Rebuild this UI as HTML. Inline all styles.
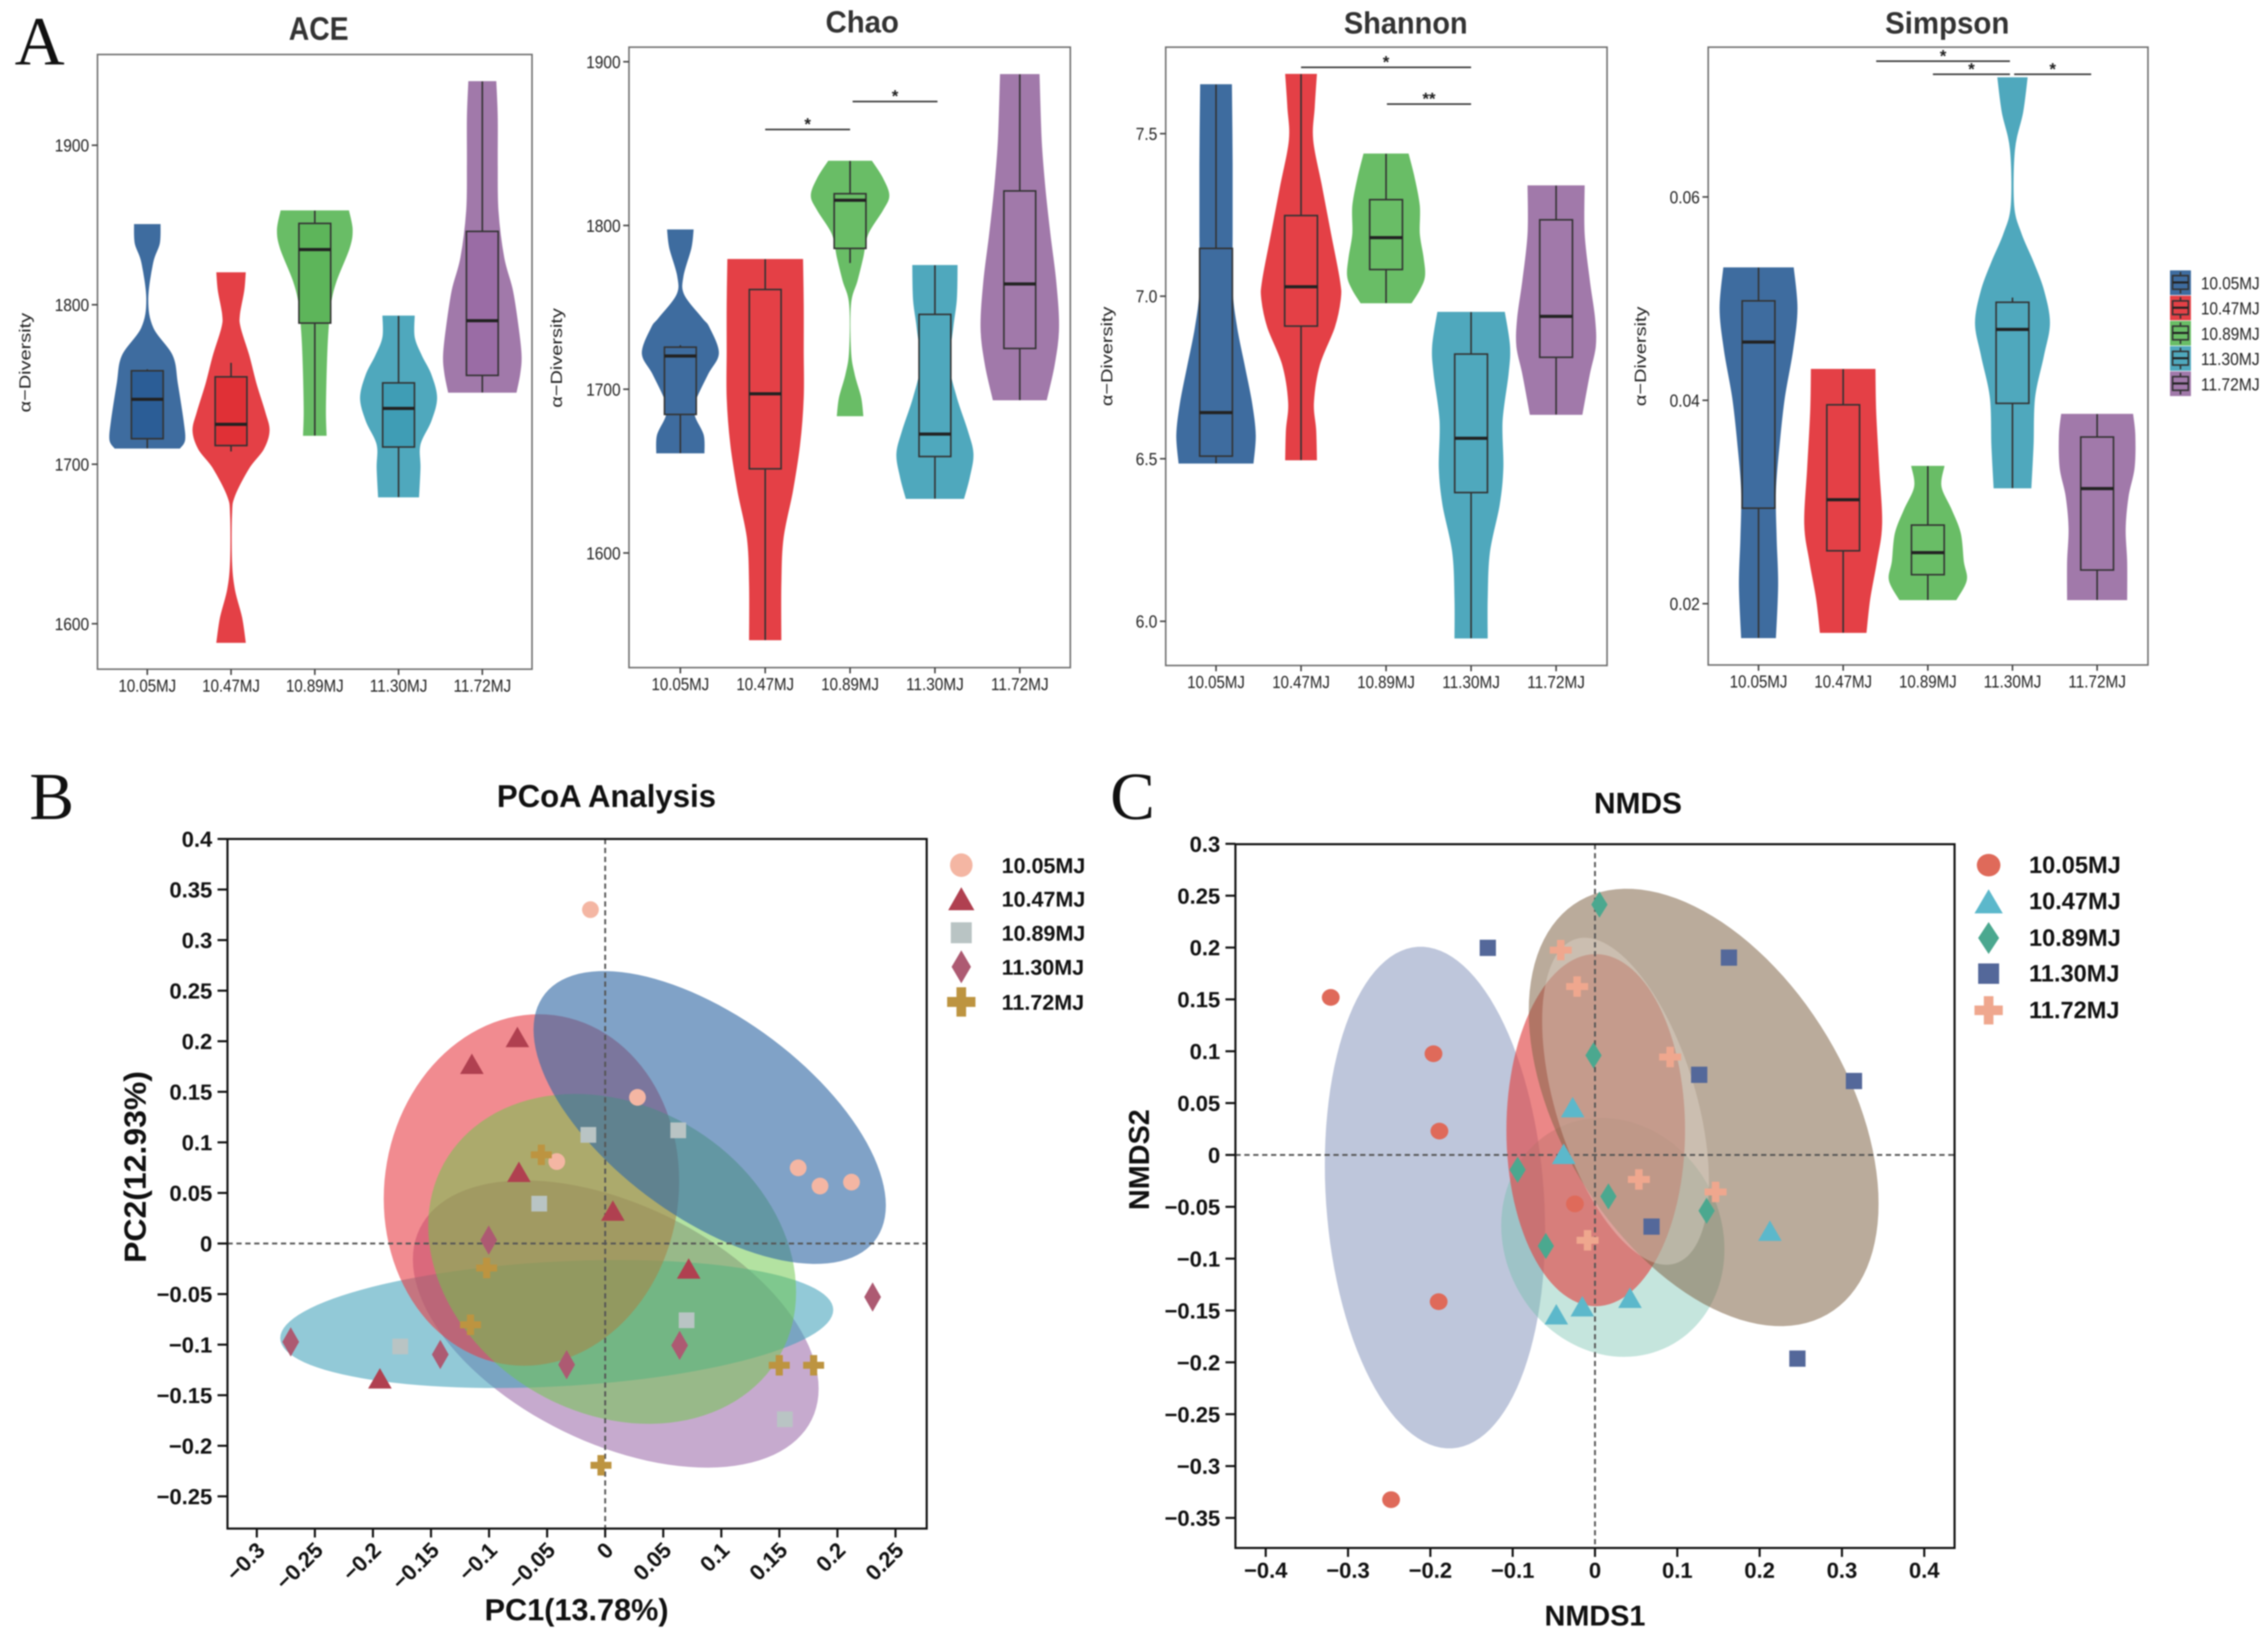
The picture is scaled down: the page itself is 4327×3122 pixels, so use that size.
<!DOCTYPE html>
<html lang="en">
<head>
<meta charset="utf-8">
<title>Alpha diversity, PCoA and NMDS</title>
<style>
html,body{margin:0;padding:0;background:#fff;}
svg{display:block;filter:blur(1.2px);}
text{font-family:"Liberation Sans",sans-serif;}
.serif{font-family:"Liberation Serif",serif;}
</style>
</head>
<body>
<svg id="figure" xmlns="http://www.w3.org/2000/svg" width="4327" height="3122" viewBox="0 0 4327 3122">
<rect width="4327" height="3122" fill="#fff"/>
<text class="serif" x="28" y="123" font-size="132" fill="#111">A</text>
<text class="serif" x="56" y="1563" font-size="128" fill="#111">B</text>
<text class="serif" x="2118" y="1563" font-size="128" fill="#111">C</text>
<text x="608" y="76" font-size="62" font-weight="bold" fill="#333" text-anchor="middle" textLength="114" lengthAdjust="spacingAndGlyphs">ACE</text>
<text x="1645" y="62" font-size="58" font-weight="bold" fill="#333" text-anchor="middle" textLength="140" lengthAdjust="spacingAndGlyphs">Chao</text>
<text x="2682" y="64" font-size="58" font-weight="bold" fill="#333" text-anchor="middle" textLength="236" lengthAdjust="spacingAndGlyphs">Shannon</text>
<text x="3715" y="64" font-size="58" font-weight="bold" fill="#333" text-anchor="middle" textLength="237" lengthAdjust="spacingAndGlyphs">Simpson</text>
<text transform="translate(58 692) rotate(-90)" font-size="31" fill="#222" text-anchor="middle" textLength="190" lengthAdjust="spacingAndGlyphs">α−Diversity</text>
<text transform="translate(1072 683) rotate(-90)" font-size="31" fill="#222" text-anchor="middle" textLength="190" lengthAdjust="spacingAndGlyphs">α−Diversity</text>
<text transform="translate(2122 680) rotate(-90)" font-size="31" fill="#222" text-anchor="middle" textLength="190" lengthAdjust="spacingAndGlyphs">α−Diversity</text>
<text transform="translate(3140 680) rotate(-90)" font-size="31" fill="#222" text-anchor="middle" textLength="190" lengthAdjust="spacingAndGlyphs">α−Diversity</text>
<text x="1157" y="1540" font-size="60" font-weight="bold" fill="#111" text-anchor="middle" textLength="418" lengthAdjust="spacingAndGlyphs">PCoA Analysis</text>
<text x="1100" y="3092" font-size="58" font-weight="bold" fill="#111" text-anchor="middle" textLength="351" lengthAdjust="spacingAndGlyphs">PC1(13.78%)</text>
<text transform="translate(278 2227) rotate(-90)" font-size="58" font-weight="bold" fill="#111" text-anchor="middle" textLength="366" lengthAdjust="spacingAndGlyphs">PC2(12.93%)</text>
<text x="3125" y="1552" font-size="57" font-weight="bold" fill="#111" text-anchor="middle">NMDS</text>
<text x="3043" y="3102" font-size="55" font-weight="bold" fill="#111" text-anchor="middle">NMDS1</text>
<text transform="translate(2192 2213) rotate(-90)" font-size="55" font-weight="bold" fill="#111" text-anchor="middle">NMDS2</text>
</svg>
<script>
// ---------- shared categories ----------
const groupLabels = ["10.05MJ", "10.47MJ", "10.89MJ", "11.30MJ", "11.72MJ"];

// ---------- ACE ----------
const aceTicks = [1600, 1700, 1800, 1900];
const aceTickLabels = ["1600", "1700", "1800", "1900"];
const aceBoxes = [
  [1710, 1716, 1740.7, 1758.6, 1759.5],
  [1708, 1711.7, 1725, 1754.8, 1763.6],
  [1718, 1788.5, 1834.6, 1851, 1859],
  [1679.4, 1710.8, 1735, 1751, 1793],
  [1745, 1755.7, 1790, 1846, 1940]
];
const aceViolinValues = [
  [1850.4, 1838.4, 1826.7, 1803.2, 1785.6, 1768, 1750.4, 1727, 1715.2, 1710],
  [1820.2, 1809, 1794, 1785.6, 1768, 1750.4, 1732.8, 1721, 1709.4, 1697.6, 1680, 1668.3, 1639, 1621.4, 1603.8, 1588.2],
  [1859, 1847.2, 1835.5, 1815, 1800.3, 1779.7, 1756.3, 1732.8, 1718],
  [1793, 1779.7, 1768, 1756.3, 1741.6, 1727, 1712.3, 1697.6, 1679.4],
  [1940, 1917.6, 1888.3, 1859, 1829.6, 1809, 1785.6, 1768, 1756.3, 1745]
];
const aceViolinDensity = [
  [18, 17, 8, 1, 8, 35, 42, 50, 52, 45],
  [20, 18, 12, 13, 25, 35, 47, 53, 45, 25, 5, 1, 1, 5, 15, 20],
  [47, 52, 48, 30, 22, 18, 16, 15, 16],
  [22, 22, 32, 45, 53, 45, 30, 30, 28],
  [19, 21, 21, 22, 30, 42, 50, 54, 52, 47]
];

// ---------- Chao ----------
const chaoTicks = [1600, 1700, 1800, 1900];
const chaoTickLabels = ["1600", "1700", "1800", "1900"];
const chaoBoxes = [
  [1661, 1684.6, 1720.3, 1725.7, 1726.9],
  [1546.9, 1651.4, 1697.2, 1760.9, 1779.4],
  [1777.1, 1786, 1815.4, 1819.4, 1839.4],
  [1633.2, 1658.9, 1672.6, 1745.7, 1775.7],
  [1693.4, 1724.9, 1764.3, 1821.1, 1892.3]
];
const chaoViolinValues = [
  [1797.4, 1786.3, 1769.1, 1757.7, 1743.4, 1737.7, 1722, 1709.1, 1692, 1683.4, 1672, 1661],
  [1779.4, 1752, 1723.4, 1694.9, 1666.3, 1637.7, 1609, 1580.6, 1546.9],
  [1839.4, 1829.1, 1818.3, 1809.1, 1794.9, 1780.6, 1766.3, 1752, 1723.4, 1709.1, 1694.9, 1683.7],
  [1775.7, 1754.9, 1737.7, 1714.9, 1694.9, 1674.9, 1660.6, 1646.3, 1633.2],
  [1892.3, 1852, 1823.4, 1794.9, 1766.3, 1737.7, 1714.9, 1693.4]
];
const chaoViolinDensity = [
  [18, 15, 4, 5, 30, 40, 53, 38, 20, 20, 32, 33],
  [52, 53, 53, 53, 48, 38, 25, 22, 22],
  [30, 45, 54, 45, 25, 18, 10, 1, 1, 6, 15, 18],
  [31, 30, 25, 20, 30, 45, 53, 48, 40],
  [27, 30, 35, 42, 50, 54, 48, 37]
];
const chaoSigStart = [1, 2.03];
const chaoSigEnd = [2, 3.03];
const chaoSigValue = [1858.6, 1875.7];
const chaoSigLabel = ["*", "*"];

// ---------- Shannon ----------
const shannonTicks = [6.0, 6.5, 7.0, 7.5];
const shannonTickLabels = ["6.0", "6.5", "7.0", "7.5"];
const shannonBoxes = [
  [6.486, 6.508, 6.642, 7.147, 7.651],
  [6.496, 6.908, 7.029, 7.248, 7.683],
  [6.979, 7.082, 7.18, 7.297, 7.438],
  [5.948, 6.396, 6.563, 6.822, 6.951],
  [6.636, 6.812, 6.938, 7.235, 7.34]
];
const shannonViolinValues = [
  [7.651, 7.408, 7.192, 7.019, 6.904, 6.789, 6.673, 6.573, 6.486],
  [7.683, 7.581, 7.48, 7.336, 7.192, 7.048, 6.99, 6.904, 6.789, 6.673, 6.587, 6.496],
  [7.438, 7.365, 7.278, 7.192, 7.12, 7.062, 7.019, 6.979],
  [6.951, 6.846, 6.76, 6.616, 6.472, 6.357, 6.213, 6.069, 5.948],
  [7.34, 7.192, 7.048, 6.933, 6.846, 6.76, 6.636]
];
const shannonViolinDensity = [
  [21, 22, 22, 22, 28, 38, 48, 53, 50],
  [21, 18, 16, 28, 40, 52, 53, 45, 25, 17, 20, 21],
  [30, 38, 45, 45, 50, 52, 45, 34],
  [45, 52, 50, 42, 43, 38, 25, 22, 22],
  [38, 38, 45, 52, 53, 45, 35]
];
const shannonSigStart = [1, 2.01];
const shannonSigEnd = [3, 3];
const shannonSigValue = [7.704, 7.591];
const shannonSigLabel = ["*", "**"];

// ---------- Simpson ----------
const simpsonTicks = [0.02, 0.04, 0.06];
const simpsonTickLabels = ["0.02", "0.04", "0.06"];
const simpsonBoxes = [
  [0.01664, 0.02939, 0.04573, 0.04978, 0.05305],
  [0.01715, 0.0252, 0.03022, 0.03956, 0.04306],
  [0.02037, 0.02285, 0.02502, 0.02773, 0.03353],
  [0.03137, 0.0397, 0.04697, 0.04964, 0.0501],
  [0.02037, 0.02331, 0.03132, 0.03639, 0.03864]
];
const simpsonViolinValues = [
  [0.05305, 0.049, 0.04486, 0.04025, 0.03565, 0.03105, 0.02644, 0.02184, 0.01664],
  [0.04306, 0.03887, 0.03335, 0.02782, 0.02414, 0.02046, 0.01715],
  [0.03353, 0.03151, 0.02921, 0.0269, 0.02414, 0.0223, 0.02037],
  [0.07174, 0.06833, 0.06465, 0.05913, 0.05636, 0.0536, 0.05084, 0.04762, 0.0444, 0.04025, 0.03565, 0.03137],
  [0.03864, 0.03657, 0.03335, 0.03059, 0.02736, 0.02414, 0.02037]
];
const simpsonViolinDensity = [
  [47, 52, 46, 35, 28, 23, 24, 26, 23],
  [43, 44, 48, 52, 45, 36, 31],
  [22, 18, 32, 44, 48, 52, 38],
  [20, 14, 3, 2, 12, 28, 42, 50, 42, 30, 28, 25],
  [48, 51, 50, 42, 38, 40, 40]
];
const simpsonSigStart = [1.39, 2.06, 3.02];
const simpsonSigEnd = [2.97, 2.97, 3.93];
const simpsonSigValue = [0.07335, 0.07206, 0.07206];
const simpsonSigLabel = ["*", "*", "*"];

// ---------- PCoA ----------
const pcoaXTicks = [-0.3, -0.25, -0.2, -0.15, -0.1, -0.05, 0, 0.05, 0.1, 0.15, 0.2, 0.25];
const pcoaYTicks = [-0.25, -0.2, -0.15, -0.1, -0.05, 0, 0.05, 0.1, 0.15, 0.2, 0.25, 0.3, 0.35, 0.4];
const pcoaPointsX = [
  [-0.0127, 0.0278, -0.0417, 0.1662, 0.185, 0.2121],
  [-0.0756, -0.1148, -0.0743, 0.0066, 0.0719, -0.194],
  [-0.0145, 0.0629, -0.0568, 0.0701, -0.1765, 0.1547],
  [-0.1003, 0.2303, -0.2708, -0.142, 0.0641, -0.0332],
  [-0.055, -0.1021, -0.116, 0.1499, 0.1795, -0.0036]
];
const pcoaPointsY = [
  [0.3301, 0.1445, 0.081, 0.0748, 0.0568, 0.0607],
  [0.2042, 0.1777, 0.0709, 0.0326, -0.0247, -0.1333],
  [0.1074, 0.1119, 0.0394, -0.0759, -0.1018, -0.1738],
  [0.0034, -0.0529, -0.0973, -0.1097, -0.1007, -0.1198],
  [0.0877, -0.0242, -0.0804, -0.1204, -0.1204, -0.2193]
];
const pcoaEllipseCenterX = [0.0091, -0.0417, -0.0635, 0.006, 0.09];
const pcoaEllipseCenterY = [-0.0796, -0.0796, 0.0529, -0.0152, 0.1246];
const pcoaEllipseHalfX = [0.1747, 0.2381, 0.1272, 0.1584, 0.1517];
const pcoaEllipseHalfY = [0.142, 0.0633, 0.1738, 0.1631, 0.1448];
const pcoaEllipseCorr = [-0.45, 0.22, 0.05, -0.2, -0.6];

// ---------- NMDS ----------
const nmdsXTicks = [-0.4, -0.3, -0.2, -0.1, 0, 0.1, 0.2, 0.3, 0.4];
const nmdsYTicks = [-0.35, -0.3, -0.25, -0.2, -0.15, -0.1, -0.05, 0, 0.05, 0.1, 0.15, 0.2, 0.25, 0.3];
const nmdsPointsX = [
  [-0.321, -0.1962, -0.189, -0.0244, -0.1899, -0.2477],
  [-0.0271, -0.038, 0.2125, 0.0425, -0.0154, -0.047],
  [0.0054, -0.0018, -0.094, 0.0163, 0.1356, -0.0597],
  [-0.1302, 0.1627, 0.1266, 0.3146, 0.0687, 0.2459],
  [-0.0416, -0.0217, 0.0913, 0.0533, 0.1465, -0.009]
];
const nmdsPointsY = [
  [0.1519, 0.0976, 0.023, -0.0472, -0.1415, -0.3324],
  [0.0461, 0.0011, -0.073, -0.1377, -0.1459, -0.1536],
  [0.2414, 0.096, -0.0143, -0.04, -0.0538, -0.0878],
  [0.1997, 0.1903, 0.0773, 0.0713, -0.0691, -0.1964],
  [0.1975, 0.1624, 0.0944, -0.0236, -0.0357, -0.0823]
];
const nmdsEllipseCenterX = [-0.1944, 0.0217, 0.0009, 0.132, 0.0371];
const nmdsEllipseCenterY = [-0.0411, -0.0795, 0.0239, 0.0458, 0.0518];
const nmdsEllipseHalfX = [0.1338, 0.1356, 0.1085, 0.2125, 0.1013];
const nmdsEllipseHalfY = [0.2419, 0.1152, 0.1698, 0.2109, 0.1577];
const nmdsEllipseCorr = [-0.13, -0.1, 0, -0.44, -0.49];

// ---------- drawing helpers ----------
const NS = "http://www.w3.org/2000/svg";
const svg = document.getElementById("figure");
const violinColors = ["#3e6c9f", "#e44046", "#69bd66", "#4fa8bd", "#a179aa"];
const aceBoxColors = ["#2b5d96", "#e03036", "#5db55a", "#3f9db5", "#9a6ca5"];

function mk(tag, attrs, parent) {
  const e = document.createElementNS(NS, tag);
  for (const k in attrs) e.setAttribute(k, attrs[k]);
  parent.appendChild(e);
  return e;
}
function textEl(parent, x, y, str, size, o) {
  o = o || {};
  const e = mk("text", {x: x, y: y, "font-size": size, fill: o.fill || "#222",
    "text-anchor": o.anchor || "middle"}, parent);
  if (o.weight) e.setAttribute("font-weight", o.weight);
  if (o.len) {
    e.setAttribute("textLength", o.len);
    e.setAttribute("lengthAdjust", "spacingAndGlyphs");
  }
  if (o.rot) e.setAttribute("transform", "rotate(" + o.rot + " " + x + " " + y + ")");
  e.textContent = str;
  return e;
}
function smooth(pts) {
  let d = "";
  for (let i = 0; i < pts.length - 1; i++) {
    const p0 = pts[Math.max(i - 1, 0)], p1 = pts[i], p2 = pts[i + 1], p3 = pts[Math.min(i + 2, pts.length - 1)];
    d += "C" + (p1[0] + (p2[0] - p0[0]) / 6).toFixed(1) + " " + (p1[1] + (p2[1] - p0[1]) / 6).toFixed(1) + " " +
         (p2[0] - (p3[0] - p1[0]) / 6).toFixed(1) + " " + (p2[1] - (p3[1] - p1[1]) / 6).toFixed(1) + " " +
         p2[0].toFixed(1) + " " + p2[1].toFixed(1);
  }
  return d;
}

function violinPanel(key, f, ticks, tickLabels, boxes, values, density, sig) {
  const g = mk("g", {}, svg);
  
  
  const X = i => f.x0 + i * f.step;
  const Y = v => f.t + (f.top - v) / (f.top - f.bottom) * (f.b - f.t);
  const W = d => d * f.widthScale;

  const frame = mk("rect", {x: f.l, y: f.t, width: f.r - f.l, height: f.b - f.t, fill: "#fff", stroke: "#707070", "stroke-width": 3}, g);
  
  

  ticks.forEach((v, i) => {
    const t = mk("line", {x1: f.l - 11, x2: f.l, y1: Y(v), y2: Y(v), stroke: "#444", "stroke-width": 3}, g);
    
    
    const lab = textEl(g, f.l - 16, Y(v) + 12, tickLabels[i], 33, {anchor: "end", len: tickLabels[i].length * 16.4 - (tickLabels[i].indexOf(".") >= 0 ? 8 : 0)});
    
    
  });

  groupLabels.forEach((name, i) => {
    const t = mk("line", {x1: X(i), x2: X(i), y1: f.b, y2: f.b + 11, stroke: "#444", "stroke-width": 3}, g);
    
    
    const lab = textEl(g, X(i), f.b + 43, name, 33, {len: 110});
    
    

    const right = values[i].map((v, j) => [X(i) + W(density[i][j]), Y(v)]);
    const left = values[i].map((v, j) => [X(i) - W(density[i][j]), Y(v)]).reverse();
    const d = "M" + right[0][0].toFixed(1) + " " + right[0][1].toFixed(1) + smooth(right) +
              "L" + left[0][0].toFixed(1) + " " + left[0][1].toFixed(1) + smooth(left) + "Z";
    const v = mk("path", {d: d, fill: violinColors[i], stroke: violinColors[i], "stroke-width": 1}, g);
    
    

    const b = boxes[i];
    const hw = 22 * f.widthScale;
    const w = mk("line", {x1: X(i), x2: X(i), y1: Y(b[0]), y2: Y(b[4]), stroke: "#333", "stroke-width": 3}, g);
    
    
    const bx = mk("rect", {x: X(i) - hw, y: Y(b[3]), width: 2 * hw, height: Y(b[1]) - Y(b[3]),
      fill: f.boxFill ? f.boxFill[i] : violinColors[i], stroke: "#333", "stroke-width": 3}, g);
    
    
    const m = mk("line", {x1: X(i) - hw, x2: X(i) + hw, y1: Y(b[2]), y2: Y(b[2]), stroke: "#222", "stroke-width": 6}, g);
    
    
  });

  if (sig) {
    sig.value.forEach((v, i) => {
      const l = mk("line", {x1: X(sig.start[i]), x2: X(sig.end[i]), y1: Y(v), y2: Y(v), stroke: "#333", "stroke-width": 3}, g);
      
      
      const s = textEl(g, X((sig.start[i] + sig.end[i]) / 2), Y(v) + 1, sig.label[i], 32, {weight: "bold"});
      
      
    });
  }
}

violinPanel("ace", {l: 186, r: 1015, t: 104, b: 1277, top: 1956.9, bottom: 1571.5, x0: 281, step: 159.8, widthScale: 1.378, boxFill: aceBoxColors},
  aceTicks, aceTickLabels, aceBoxes, aceViolinValues, aceViolinDensity, null);
violinPanel("chao", {l: 1200, r: 2042, t: 90, b: 1274, top: 1908.9, bottom: 1530, x0: 1298, step: 161.9, widthScale: 1.378},
  chaoTicks, chaoTickLabels, chaoBoxes, chaoViolinValues, chaoViolinDensity,
  {start: chaoSigStart, end: chaoSigEnd, value: chaoSigValue, label: chaoSigLabel});
violinPanel("shannon", {l: 2224, r: 3066, t: 90, b: 1270, top: 7.766, bottom: 5.864, x0: 2320, step: 162.2, widthScale: 1.42},
  shannonTicks, shannonTickLabels, shannonBoxes, shannonViolinValues, shannonViolinDensity,
  {start: shannonSigStart, end: shannonSigEnd, value: shannonSigValue, label: shannonSigLabel});
violinPanel("simpson", {l: 3259, r: 4098, t: 90, b: 1269, top: 0.07473, bottom: 0.01397, x0: 3355, step: 161.5, widthScale: 1.42},
  simpsonTicks, simpsonTickLabels, simpsonBoxes, simpsonViolinValues, simpsonViolinDensity,
  {start: simpsonSigStart, end: simpsonSigEnd, value: simpsonSigValue, label: simpsonSigLabel});

// legend for panel A
const legendA = mk("g", {}, svg);


groupLabels.forEach((name, i) => {
  const top = 516 + i * 48.2, cx = 4160, cy = top + 23;
  const key = mk("rect", {x: 4140, y: top, width: 40, height: 47, fill: violinColors[i]}, legendA);
  
  
  const wh = mk("line", {x1: cx, x2: cx, y1: top + 3, y2: top + 44, stroke: "#333", "stroke-width": 3}, legendA);
  
  
  const bx = mk("rect", {x: cx - 15, y: cy - 13, width: 30, height: 26, fill: violinColors[i], stroke: "#333", "stroke-width": 3}, legendA);
  
  
  const md = mk("line", {x1: cx - 15, x2: cx + 15, y1: cy, y2: cy, stroke: "#222", "stroke-width": 4}, legendA);
  
  
  const lab = textEl(legendA, 4199, top + 36, name, 33, {anchor: "start", len: 112});
  
  
});

function marker(parent, shape, x, y, w, h, color) {
  if (shape === "circle") return mk("ellipse", {cx: x, cy: y, rx: w / 2, ry: h / 2, fill: color}, parent);
  if (shape === "square") return mk("rect", {x: x - w / 2, y: y - h / 2, width: w, height: h, fill: color}, parent);
  if (shape === "triangle") return mk("polygon", {points: [x, y - h / 2, x + w / 2, y + h / 2, x - w / 2, y + h / 2].join(" "), fill: color}, parent);
  if (shape === "diamond") return mk("polygon", {points: [x, y - h / 2, x + w / 2, y, x, y + h / 2, x - w / 2, y].join(" "), fill: color}, parent);
  const a = w * 0.17, b = h * 0.17, W = w / 2, H = h / 2;
  return mk("polygon", {points: [x - a, y - H, x + a, y - H, x + a, y - b, x + W, y - b, x + W, y + b, x + a, y + b, x + a, y + H, x - a, y + H, x - a, y + b, x - W, y + b, x - W, y - b, x - a, y - b].join(" "), fill: color}, parent);
}

function scatterPanel(key, f, xTicks, yTicks, ptsX, ptsY, el) {
  const g = mk("g", {}, svg);
  
  
  const X = v => f.x0 + v * f.xk;
  const Y = v => f.y0 - v * f.yk;
  const fmt = v => String(v).replace("-", "\u2212");

  el.cx.forEach((cx, i) => {
    const pts = [];
    const rho = el.corr[i], q = Math.sqrt(1 - rho * rho);
    for (let k = 0; k < 120; k++) {
      const t = k / 120 * 2 * Math.PI;
      const dx = el.a[i] * Math.cos(t);
      const dy = el.b[i] * (rho * Math.cos(t) + q * Math.sin(t));
      pts.push(X(cx + dx).toFixed(1) + "," + Y(el.cy[i] + dy).toFixed(1));
    }
    const e = mk("polygon", {points: pts.join(" "), fill: f.ellipseFill[i]}, g);
    
    
  });

  const v0 = mk("line", {x1: X(0), x2: X(0), y1: f.t, y2: f.b, stroke: "#555", "stroke-width": 3.5, "stroke-dasharray": "10 7"}, g);
  
  
  const h0 = mk("line", {x1: f.l, x2: f.r, y1: Y(0), y2: Y(0), stroke: "#555", "stroke-width": 3.5, "stroke-dasharray": "10 7"}, g);
  
  

  const frame = mk("rect", {x: f.l, y: f.t, width: f.r - f.l, height: f.b - f.t, fill: "none", stroke: "#111", "stroke-width": 4}, g);
  
  

  yTicks.forEach(v => {
    const t = mk("line", {x1: f.l - 19, x2: f.l, y1: Y(v), y2: Y(v), stroke: "#111", "stroke-width": 4}, g);
    
    
    const lab = textEl(g, f.l - 29, Y(v) + 15, fmt(v), f.tickFont, {anchor: "end", weight: "bold", fill: "#111"});
    
    
  });
  xTicks.forEach(v => {
    const t = mk("line", {x1: X(v), x2: X(v), y1: f.b, y2: f.b + 17, stroke: "#111", "stroke-width": 4}, g);
    
    
    const lab = f.rotateX
      ? textEl(g, X(v) + 18, f.b + 44, fmt(v), f.tickFont, {anchor: "end", weight: "bold", fill: "#111", rot: -45})
      : textEl(g, X(v), f.b + 57, fmt(v), f.tickFont, {weight: "bold", fill: "#111"});
    
    
  });

  groupLabels.forEach((name, i) => {
    ptsX[i].forEach((px, j) => {
      const s = f.sizes[i];
      const m = marker(g, f.shapes[i], X(px), Y(ptsY[i][j]), s[0], s[1], f.colors[i]);
      
      
    });
    const s = f.legendSizes[i];
    const lm = marker(g, f.shapes[i], f.legendX, f.legendY[i], s[0], s[1], f.colors[i]);
    
    
    const lab = textEl(g, f.legendTextX, f.legendY[i] + 15, name, f.legendFont, {anchor: "start", weight: "bold", fill: "#111"});
    
    
  });
}

scatterPanel("pcoa", {
  l: 434, r: 1768, t: 1601, b: 2917, x0: 1154.6, xk: 2215.5, y0: 2373, yk: 1930, tickFont: 42, rotateX: true,
  ellipseFill: ["rgba(154,106,168,.57)", "rgba(63,160,184,.57)", "rgba(232,62,70,.6)", "rgba(110,200,75,.52)", "rgba(50,105,165,.62)"],
  shapes: ["circle", "triangle", "square", "diamond", "plus"],
  colors: ["#f4b6a3", "#b04050", "#b9c4c4", "#ad5a72", "#bd9440"],
  sizes: [[32, 32], [45, 39], [30, 30], [32, 56], [40, 39]],
  legendSizes: [[43, 45], [50, 44], [40, 40], [37, 63], [54, 56]],
  legendX: 1834, legendY: [1651, 1715, 1780, 1845, 1912], legendTextX: 1911, legendFont: 41
}, pcoaXTicks, pcoaYTicks, pcoaPointsX, pcoaPointsY,
{cx: pcoaEllipseCenterX, cy: pcoaEllipseCenterY, a: pcoaEllipseHalfX, b: pcoaEllipseHalfY, corr: pcoaEllipseCorr});

scatterPanel("nmds", {
  l: 2357, r: 3729, t: 1611, b: 2954, x0: 3043, xk: 1570.5, y0: 2204, yk: 1979, tickFont: 42, rotateX: false,
  ellipseFill: ["rgba(120,135,180,.48)", "rgba(110,190,170,.4)", "rgba(224,70,70,.65)", "rgba(130,102,73,.55)", "rgba(235,225,215,.35)"],
  shapes: ["circle", "triangle", "diamond", "square", "plus"],
  colors: ["#df6a5a", "#5cb8cb", "#4ba88f", "#54689a", "#efa78e"],
  sizes: [[34, 32], [45, 39], [31, 50], [31, 31], [42, 39]],
  legendSizes: [[45, 43], [54, 46], [40, 61], [40, 39], [54, 54]],
  legendX: 3794, legendY: [1651, 1720, 1790, 1858, 1928], legendTextX: 3871, legendFont: 45
}, nmdsXTicks, nmdsYTicks, nmdsPointsX, nmdsPointsY,
{cx: nmdsEllipseCenterX, cy: nmdsEllipseCenterY, a: nmdsEllipseHalfX, b: nmdsEllipseHalfY, corr: nmdsEllipseCorr});
</script>
</body>
</html>
